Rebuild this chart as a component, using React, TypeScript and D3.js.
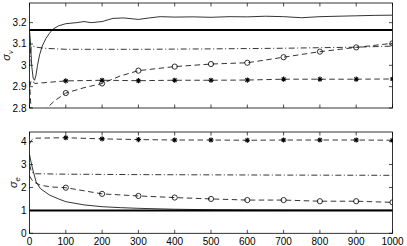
import React from "react";
import * as d3 from "d3";

type P = [number, number];

const xTicks = [0, 100, 200, 300, 400, 500, 600, 700, 800, 900, 1000];
const markerX = [100, 200, 300, 400, 500, 600, 700, 800, 900, 1000];
const topYTicks = [2.8, 2.9, 3, 3.1, 3.2];
const botYTicks = [0, 1, 2, 3, 4];

const topTrue = 3.166;
const botTrue = 1.0;

const topSolid: P[] = [[0,3.165],[3,3.1],[6,3.0],[10,2.94],[14,2.93],[18,2.955],[22,3.0],[28,3.05],[35,3.09],[45,3.125],[55,3.15],[65,3.17],[80,3.185],[100,3.195],[130,3.2],[150,3.205],[170,3.2],[200,3.205],[230,3.22],[260,3.222],[300,3.215],[330,3.222],[360,3.228],[400,3.226],[450,3.227],[500,3.225],[550,3.228],[600,3.227],[650,3.23],[700,3.228],[750,3.223],[800,3.228],[850,3.23],[900,3.232],[950,3.234],[1000,3.235]];
const topDashDot: P[] = [[0,3.0],[4,3.08],[10,3.09],[20,3.085],[40,3.08],[100,3.075],[300,3.075],[500,3.077],[700,3.08],[900,3.085],[1000,3.09]];
const topStar: P[] = [[0,2.9],[5,2.93],[15,2.915],[50,2.92],[100,2.927],[200,2.93],[300,2.928],[400,2.93],[500,2.93],[600,2.931],[700,2.935],[800,2.935],[900,2.935],[1000,2.936]];
const topCircle: P[] = [[0,2.93],[4,2.8],[8,2.72],[30,2.74],[48,2.8],[70,2.835],[100,2.87],[150,2.895],[200,2.915],[250,2.95],[300,2.975],[400,2.994],[500,3.006],[600,3.012],[700,3.038],[800,3.064],[900,3.084],[1000,3.103]];

const botSolid: P[] = [[0,3.45],[3,3.2],[8,2.85],[18,2.25],[30,1.95],[55,1.67],[80,1.5],[100,1.38],[150,1.24],[200,1.16],[250,1.12],[300,1.09],[400,1.05],[500,1.03],[600,1.02],[700,1.015],[800,1.01],[900,1.01],[1000,1.005]];
const botStar: P[] = [[0,3.9],[5,4.05],[12,4.15],[100,4.17],[200,4.12],[300,4.09],[400,4.07],[500,4.07],[600,4.06],[700,4.07],[800,4.07],[900,4.07],[1000,4.06]];
const botDashDot: P[] = [[0,3.0],[5,2.7],[12,2.6],[100,2.58],[300,2.56],[500,2.55],[700,2.54],[1000,2.53]];
const botCircle: P[] = [[0,2.5],[10,2.25],[30,2.1],[60,2.02],[100,1.99],[200,1.72],[300,1.63],[400,1.56],[500,1.5],[600,1.45],[700,1.45],[800,1.4],[900,1.4],[1000,1.35]];

const L = 29.5, R = 392.5;
const FONT = "'Liberation Sans', Arial, Helvetica, sans-serif";
const DASH = "5.5,3.5";
const DASHDOT = "6,2.5,1,2.5";

function valAt(series: P[], x: number): number {
  const f = series.find((p) => p[0] === x);
  return f ? f[1] : NaN;
}

function Panel({ top, bottom, domain, yTicks, fmt, id, solid, dashdot, star, circle, trueVal, label, labelX }: any) {
  const x = d3.scaleLinear().domain([0, 1000]).range([L, R]);
  const y = d3.scaleLinear().domain(domain).range([bottom, top]);
  const line = d3.line<P>().x((d) => x(d[0])).y((d) => y(d[1]));
  const tl = 3.5;
  return (
    <g>
      <defs>
        <clipPath id={id}>
          <rect x={L} y={top} width={R - L} height={bottom - top} />
        </clipPath>
      </defs>
      <g clipPath={`url(#${id})`} fill="none" stroke="#000">
        <line x1={L} x2={R} y1={y(trueVal)} y2={y(trueVal)} strokeWidth={2} />
        <path d={line(solid) || ""} strokeWidth={0.8} />
        <path d={line(dashdot) || ""} strokeWidth={0.8} strokeDasharray={DASHDOT} />
        <path d={line(star) || ""} strokeWidth={0.8} strokeDasharray={DASH} />
        <path d={line(circle) || ""} strokeWidth={0.8} strokeDasharray={DASH} />
        {markerX.map((mx) => {
          const cx = x(mx), cy = y(valAt(circle, mx));
          return <circle key={"c" + mx} cx={cx} cy={cy} r={2.6} strokeWidth={0.8} />;
        })}
        {markerX.map((mx) => {
          const cx = x(mx), cy = y(valAt(star, mx));
          const r = 2.6, d = r * 0.707;
          return (
            <g key={"s" + mx} strokeWidth={1.1}>
              <line x1={cx - r} x2={cx + r} y1={cy} y2={cy} />
              <line x1={cx} x2={cx} y1={cy - r} y2={cy + r} />
              <line x1={cx - d} x2={cx + d} y1={cy - d} y2={cy + d} />
              <line x1={cx - d} x2={cx + d} y1={cy + d} y2={cy - d} />
              <circle cx={cx} cy={cy} r={1.2} fill="#000" stroke="none" />
            </g>
          );
        })}
      </g>
      <rect x={L} y={top} width={R - L} height={bottom - top} fill="none" stroke="#000" strokeWidth={0.8} />
      {xTicks.map((t) => (
        <g key={"xt" + t} stroke="#000" strokeWidth={0.7}>
          <line x1={x(t)} x2={x(t)} y1={bottom} y2={bottom - tl} />
          <line x1={x(t)} x2={x(t)} y1={top} y2={top + tl} />
        </g>
      ))}
      {yTicks.map((t: number) => (
        <g key={"yt" + t}>
          <line x1={L} x2={L + tl} y1={y(t)} y2={y(t)} stroke="#000" strokeWidth={0.7} />
          <line x1={R} x2={R - tl} y1={y(t)} y2={y(t)} stroke="#000" strokeWidth={0.7} />
          <text x={L - 3} y={y(t)} dy="0.35em" textAnchor="end" fontSize={10} fontFamily={FONT} fill="#000">
            {fmt(t)}
          </text>
        </g>
      ))}
      <text
        transform={`translate(${labelX},${(top + bottom) / 2}) rotate(-90)`}
        textAnchor="middle"
        fontSize={11}
        fontFamily={FONT}
        fill="#111"
      >
        <tspan fontStyle="italic">σ</tspan>
        <tspan fontSize={7.5} dy={2.5} fontStyle="italic">{label}</tspan>
      </text>
    </g>
  );
}

export default function App() {
  const x = d3.scaleLinear().domain([0, 1000]).range([L, R]);
  return (
    <svg width={407} height={246} style={{ position: "absolute", left: 0, top: 0, background: "#fff" }}>
      <rect width={407} height={246} fill="#fff" />
      <Panel
        id="clipTop"
        top={3}
        bottom={108}
        domain={[2.8, 3.292]}
        yTicks={topYTicks}
        fmt={(t: number) => (t === 3 ? "3" : t.toFixed(1))}
        solid={topSolid}
        dashdot={topDashDot}
        star={topStar}
        circle={topCircle}
        trueVal={topTrue}
        label="v"
        labelX={10}
      />
      <Panel
        id="clipBot"
        top={132}
        bottom={233.3}
        domain={[0, 4.42]}
        yTicks={botYTicks}
        fmt={(t: number) => String(t)}
        solid={botSolid}
        dashdot={botDashDot}
        star={botStar}
        circle={botCircle}
        trueVal={botTrue}
        label="e"
        labelX={17}
      />
      {xTicks.map((t) => (
        <text key={"xl" + t} x={x(t)} y={245} textAnchor="middle" fontSize={10} fontFamily={FONT} fill="#000">
          {t}
        </text>
      ))}
    </svg>
  );
}
